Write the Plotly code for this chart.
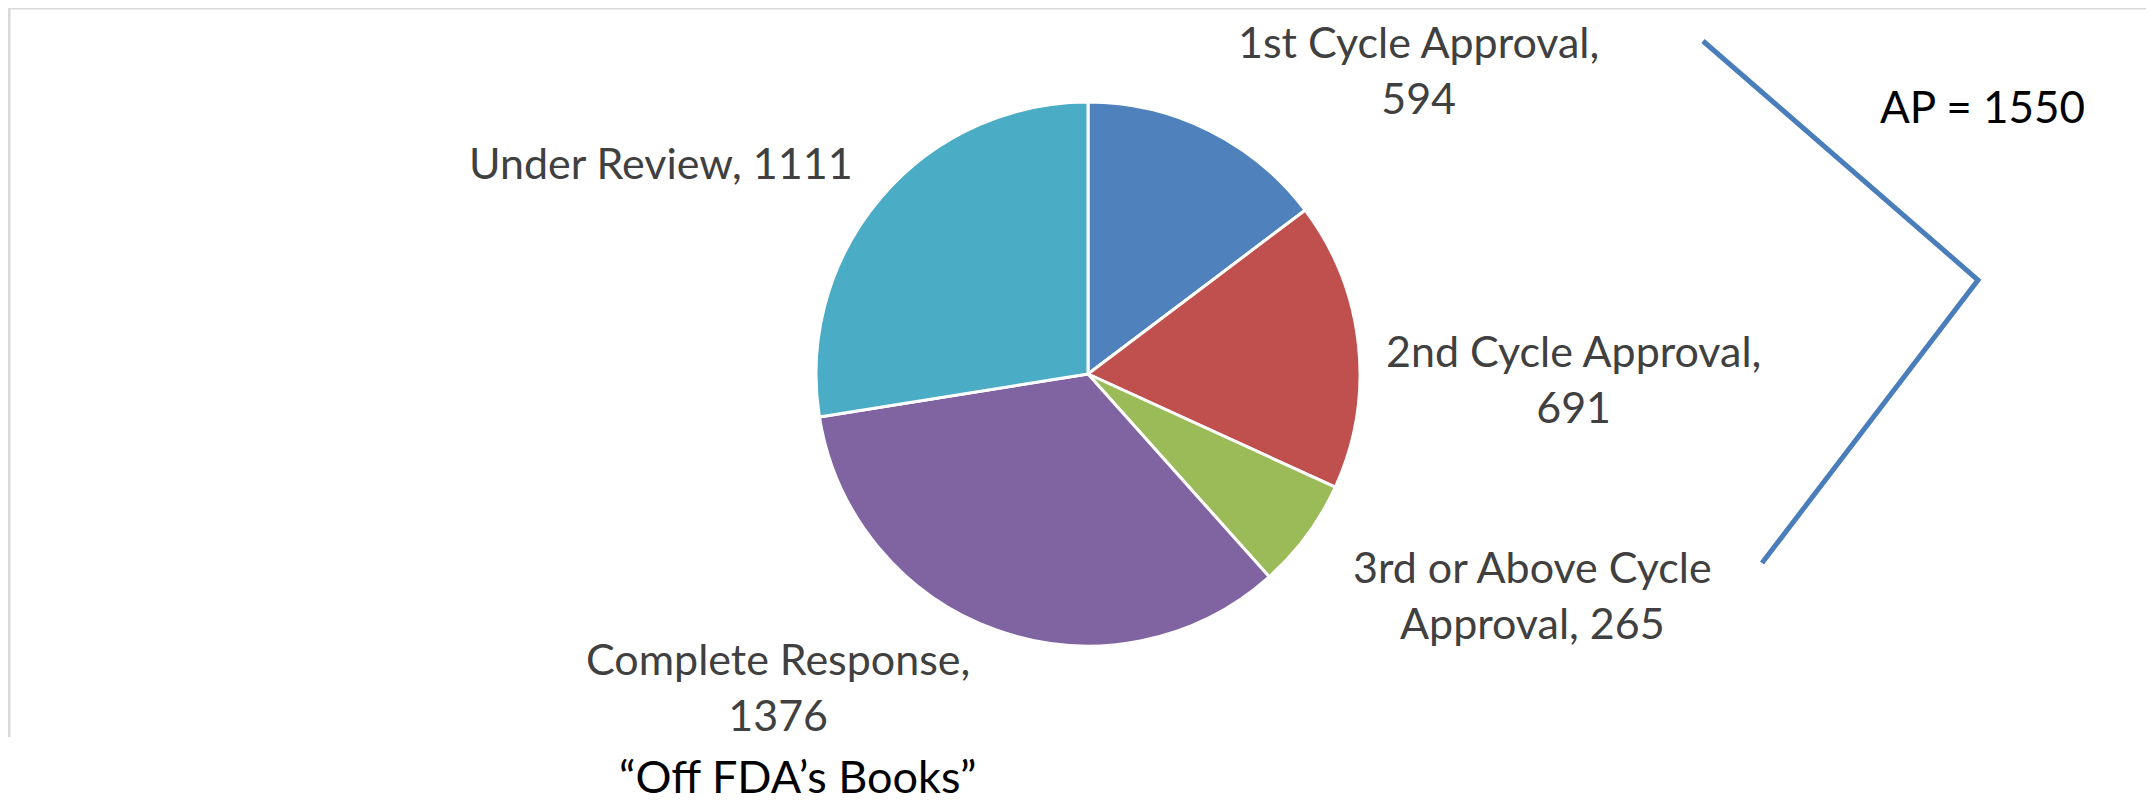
import plotly.graph_objects as go

# pie data, clockwise from 12 o'clock
labels = ["1st Cycle Approval", "2nd Cycle Approval", "3rd or Above Cycle Approval",
          "Complete Response", "Under Review"]
values = [594, 691, 265, 1376, 1111]
colors = ["#4F81BD", "#C0504D", "#9BBB59", "#8064A2", "#4BACC6"]
ap_total = 1550
footnote = "\u201cOff FDA\u2019s Books\u201d"

# the page body has an 8px margin, so the figure is drawn that much smaller
OFF = 8
W, H = 2154 - OFF, 804 - OFF


def px(x, y):
    # page pixel position -> paper coords
    return (x - OFF) / W, 1 - (y - OFF) / H


# pie geometry (page pixels)
cx, cy, r = 1088, 374, 272
x0, y0 = px(cx - r, cy + r)
x1, y1 = px(cx + r, cy - r)

fig = go.Figure()
fig.add_trace(go.Pie(
    labels=labels, values=values, sort=False, direction="clockwise", rotation=0,
    marker=dict(colors=colors, line=dict(color="white", width=3)),
    textinfo="none", hoverinfo="label+value", showlegend=False,
    domain=dict(x=[x0, x1], y=[y0, y1]),
))

# data labels: text split the way the original wraps it
label_text = [
    f"{labels[0]},<br>{values[0]}",
    f"{labels[1]},<br>{values[1]}",
    "3rd or Above Cycle<br>Approval, " + str(values[2]),
    f"{labels[3]},<br>{values[3]}",
    f"{labels[4]}, {values[4]}",
]
label_pos = [(1418, 70), (1573, 379), (1532, 594), (778, 686), (661, 162)]

for txt, (x, y) in zip(label_text, label_pos):
    ax, ay = px(x, y)
    fig.add_annotation(x=ax, y=ay, xref="paper", yref="paper", text=txt, showarrow=False,
                       font=dict(family="Lato", size=43, color="#404040"),
                       xanchor="center", yanchor="middle", align="center")

ax, ay = px(1982, 106)
fig.add_annotation(x=ax, y=ay, xref="paper", yref="paper", text=f"AP = {ap_total}",
                   showarrow=False, font=dict(family="Lato", size=44, color="black"),
                   xanchor="center", yanchor="middle")
# footnote sits right on the bottom edge
fig.add_annotation(x=px(798, 0)[0], y=0, xref="paper", yref="paper", text=footnote,
                   showarrow=False, font=dict(family="Lato", size=45, color="black"),
                   xanchor="center", yanchor="bottom", borderpad=0)

# chart frame (top and left edges only, the rest is cropped)
tl = px(9, 8)
fig.add_shape(type="line", xref="paper", yref="paper", x0=tl[0], y0=tl[1],
              x1=1, y1=tl[1], line=dict(color="#D9D9D9", width=3))
fig.add_shape(type="line", xref="paper", yref="paper", x0=tl[0], y0=tl[1],
              x1=tl[0], y1=px(9, 737)[1], line=dict(color="#D9D9D9", width=3))

# bracket grouping the approvals
p1, p2, p3 = px(1703, 41), px(1978, 280), px(1762, 563)
fig.add_shape(type="path", xref="paper", yref="paper",
              path=f"M {p1[0]} {p1[1]} L {p2[0]} {p2[1]} L {p3[0]} {p3[1]}",
              line=dict(color="#4A7EBB", width=5))

fig.update_layout(width=W, height=H, margin=dict(l=0, r=0, t=0, b=0),
                  paper_bgcolor="white", plot_bgcolor="white")
fig.write_html("out.html")
